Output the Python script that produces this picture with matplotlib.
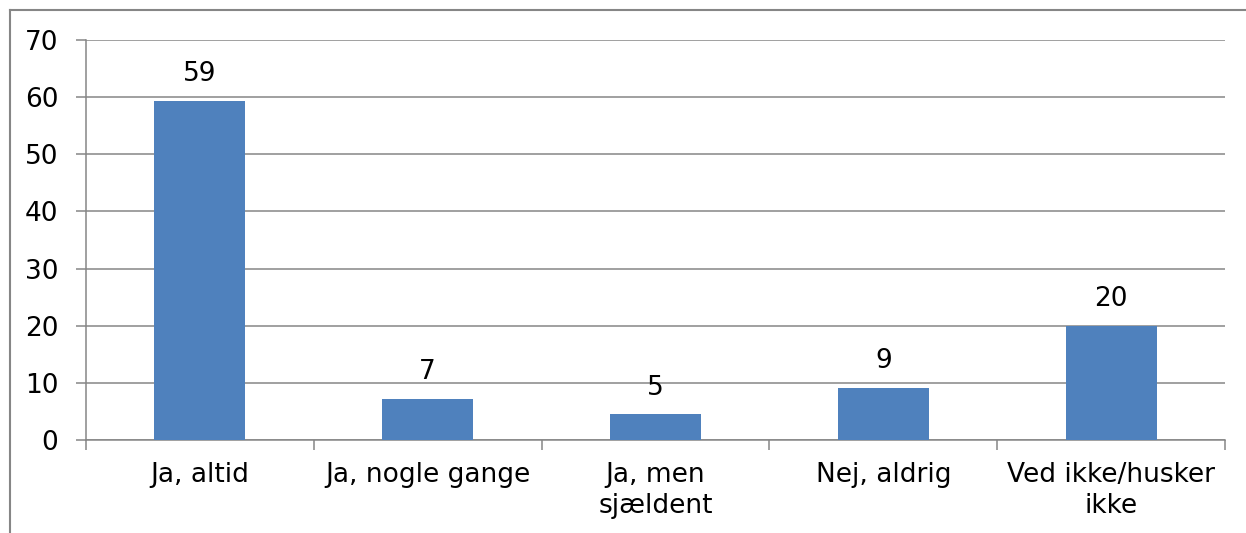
import matplotlib.pyplot as plt
from matplotlib.lines import Line2D
import numpy as np

plt.rcParams["font.family"] = ["DejaVu Sans"]

categories = ["Ja, altid", "Ja, nogle gange", "Ja, men\nsjældent", "Nej, aldrig", "Ved ikke/husker\nikke"]
values = [59.3, 7.2, 4.5, 9.1, 20.0]
labels = ["59", "7", "5", "9", "20"]

grid_col = "#868686"
bar_col = "#4F81BD"
fs = 19

fig = plt.figure(figsize=(12.46, 5.33), dpi=100)
ax = fig.add_axes([86 / 1246, 93 / 533, 1139 / 1246, 400 / 533])

x = np.arange(len(categories))
ax.bar(x, values, width=0.4, color=bar_col, zorder=3)
for xi, v, lab in zip(x, values, labels):
    ax.text(xi, v + 2.4, lab, ha="center", va="bottom", fontsize=fs)

ax.set_xlim(-0.5, len(categories) - 0.5)
ax.set_ylim(0, 70)
ax.set_yticks(range(0, 71, 10))
ax.yaxis.grid(True, color=grid_col, linewidth=1.1, zorder=0)
ax.set_xticks(x)
ax.set_xticklabels(categories, fontsize=fs, linespacing=1.25)
ax.set_xticks(np.arange(-0.5, len(categories)), minor=True)
ax.tick_params(axis="x", which="major", length=0, pad=16)
ax.tick_params(axis="x", which="minor", length=7, width=1.1, color=grid_col)
ax.tick_params(axis="y", length=7, width=1.1, color=grid_col, labelsize=fs, pad=13)

for s in ["top", "right"]:
    ax.spines[s].set_visible(False)
for s in ["left", "bottom"]:
    ax.spines[s].set_color(grid_col)
    ax.spines[s].set_linewidth(1.1)

# outer chart border (left and top only visible)
fig.add_artist(Line2D([10 / 1246, 10 / 1246], [0, 1 - 10 / 533], color=grid_col, lw=1.5, transform=fig.transFigure))
fig.add_artist(Line2D([10 / 1246, 1], [1 - 10 / 533, 1 - 10 / 533], color=grid_col, lw=1.5, transform=fig.transFigure))

fig.savefig("out.png", dpi=100)
